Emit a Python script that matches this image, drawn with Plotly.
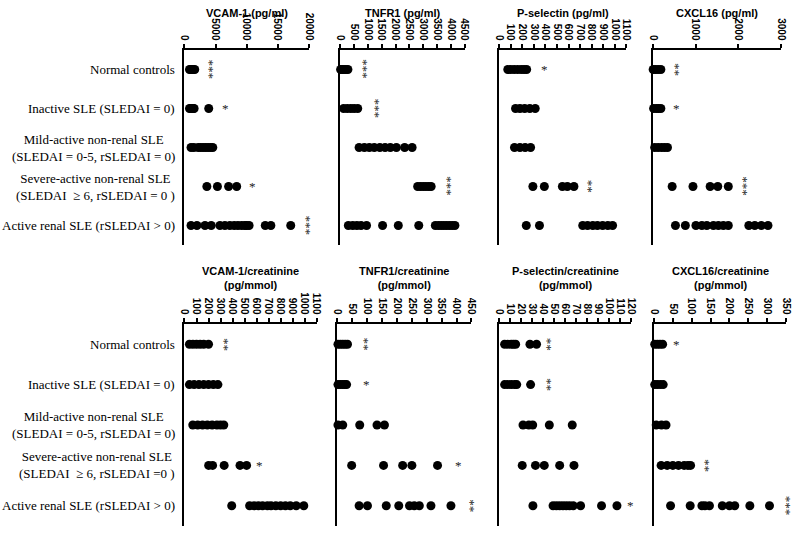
import plotly.graph_objects as go

groups_top = ["Normal controls", "Inactive SLE (SLEDAI = 0)",
              "Mild-active non-renal SLE<br>(SLEDAI = 0-5, rSLEDAI = 0)",
              "Severe-active non-renal SLE<br>(SLEDAI  \u2265 6, rSLEDAI = 0 )",
              "Active renal SLE (rSLEDAI > 0)"]
groups_bottom = ["Normal controls", "Inactive SLE (SLEDAI = 0)",
                 "Mild-active non-renal SLE<br>(SLEDAI = 0-5, rSLEDAI = 0)",
                 "Severe-active non-renal SLE<br>(SLEDAI  \u2265 6, rSLEDAI =0 )",
                 "Active renal SLE (rSLEDAI > 0)"]

titles = ["VCAM-1 (pg/ml)", "TNFR1 (pg/ml)", "P-selectin (pg/ml)", "CXCL16 (pg/ml)",
          "VCAM-1/creatinine<br>(pg/mmol)", "TNFR1/creatinine<br>(pg/mmol)",
          "P-selectin/creatinine<br>(pg/mmol)", "CXCL16/creatinine<br>(pg/mmol)"]

x_max = [20000, 4500, 1100, 3000, 1100, 450, 120, 350]
x_step = [5000, 500, 100, 1000, 100, 50, 10, 50]

vcam = [[800, 1000, 1200, 1400, 1650],
        [800, 1000, 1200, 1400, 1550, 3900],
        [1050, 1500, 2200, 2600, 3000, 3400, 3800, 4200, 4550],
        [3600, 5300, 7100, 8400],
        [1050, 2000, 3300, 4300, 5700, 6500, 7300, 8000, 8600, 9200, 9700, 10000, 10400,
         13000, 13900, 17100]]
tnfr1 = [[10, 70, 130, 200, 275],
         [120, 250, 380, 500, 630],
         [680, 870, 1050, 1230, 1430, 1620, 1810, 2030, 2330, 2600],
         [2800, 2900, 3000, 3100, 3200, 3290],
         [290, 450, 600, 750, 950, 1530, 2100, 2840,
          3440, 3550, 3650, 3750, 3850, 3950, 4050, 4150]]
psel = [[75, 100, 130, 160, 190, 215, 238],
        [142, 180, 221, 265, 312],
        [133, 180, 225, 272],
        [292, 391, 547, 590, 647],
        [235, 349, 723, 765, 810, 850, 895, 940, 981]]
cxcl16 = [[5, 60, 120, 185],
          [15, 80, 130, 185],
          [40, 120, 200, 270, 340],
          [449, 936, 1338, 1516, 1763],
          [526, 758, 1005, 1144, 1260, 1415, 1531, 1647, 1763, 2243, 2382, 2537, 2691]]
vcam_cr = [[41, 70, 100, 130, 160, 200],
           [41, 80, 120, 160, 200, 240, 278],
           [69, 110, 150, 190, 230, 270, 300, 327],
           [201, 234, 330, 462, 517],
           [393, 542, 580, 615, 650, 690, 720, 760, 800, 840, 880, 930, 993]]
tnfr1_cr = [[2, 10, 18, 26, 34],
            [2, 10, 18, 25, 31],
            [2, 18, 75, 133, 158],
            [48, 155, 219, 250, 336],
            [73, 101, 164, 206, 242, 258, 275, 314, 381]]
psel_cr = [[5, 8, 11, 13, 15, 28, 34],
           [5, 8, 11, 14, 16, 28.6],
           [21.7, 27, 30.5, 45.6, 66.4],
           [21, 33, 41, 55, 68],
           [30.7, 49, 52, 55, 58, 61, 64, 67.3, 74, 93, 107]]
cxcl16_cr = [[2, 9, 16, 23],
             [2, 9, 17, 24.5],
             [6, 20, 32],
             [19, 35, 50, 65, 80, 90, 97],
             [44, 96, 127, 135, 147, 181, 200, 214, 254, 306]]

panels = [vcam, tnfr1, psel, cxcl16, vcam_cr, tnfr1_cr, psel_cr, cxcl16_cr]

sig_text = [["***", "*", "", "*", "***"],
            ["***", "***", "", "***", "**"],
            ["*", "", "", "**", "***"],
            ["**", "*", "", "***", "***"],
            ["**", "", "", "*", "***"],
            ["**", "*", "", "*", "**"],
            ["**", "**", "", "", "*"],
            ["*", "", "", "**", "***"]]
sig_x = [[4100, 6600, None, 10900, 19700],
         [835, 1290, None, 3880, 4710],
         [391, None, None, 774, 1114],
         [526, 541, None, 2111, 3117],
         [338, None, None, 627, 1108],
         [92, 97.5, None, 408, 447],
         [44, 44, None, None, 119],
         [61, None, None, 136, 350]]

W, H = 800, 534
xdom_px = [(182, 308), (340, 466), (501, 630), (657, 787),
           (182, 316), (337, 473), (501, 635), (658, 792)]
ydom_px = [(50, 245), (324, 526)]

fig = go.Figure()
layout = dict(width=W, height=H, margin=dict(l=0, r=0, t=0, b=0),
              plot_bgcolor="white", paper_bgcolor="white", showlegend=False)
annotations = []
tickfont = dict(family="Liberation Sans, Arial", size=10, color="black", weight="bold")

for i, vals in enumerate(panels):
    n = i + 1
    xa = "x" if n == 1 else f"x{n}"
    ya = "y" if n == 1 else f"y{n}"
    row = 0 if i < 4 else 1
    x0, x1 = xdom_px[i]
    yt, yb = ydom_px[row]
    xs, ys = [], []
    for r, lst in enumerate(vals):
        xs += lst
        ys += [r] * len(lst)
    fig.add_trace(go.Scatter(x=xs, y=ys, mode="markers", xaxis=xa, yaxis=ya,
                             marker=dict(color="black", size=9, line=dict(width=0)),
                             cliponaxis=False, hoverinfo="skip"))
    tv = list(range(0, x_max[i] + 1, x_step[i]))
    layout["xaxis" if n == 1 else f"xaxis{n}"] = dict(
        domain=[x0 / W, x1 / W], anchor=ya, side="top", range=[0, x_max[i]],
        tickvals=tv, ticktext=[str(v) for v in tv], tickangle=90,
        showline=True, linewidth=2, linecolor="black", ticks="outside",
        ticklen=4, tickwidth=1.5, tickcolor="black", showgrid=False, zeroline=False,
        tickfont=tickfont, layer="below traces")
    # second set of ticks pointing inward so that ticks cross the axis line
    layout[f"xaxis{n + 8}"] = dict(
        overlaying=xa, anchor=ya, side="top", range=[0, x_max[i]],
        tickvals=tv, showticklabels=False, showline=False, ticks="inside",
        ticklen=4, tickwidth=1.5, tickcolor="black", showgrid=False,
        zeroline=False, layer="below traces")
    layout["yaxis" if n == 1 else f"yaxis{n}"] = dict(
        domain=[1 - yb / H, 1 - yt / H], anchor=xa, range=[4.5, -0.5],
        showline=True, linewidth=2, linecolor="black", showticklabels=False,
        ticks="", showgrid=False, zeroline=False, layer="below traces")
    ty = 13 if row == 0 else 278
    annotations.append(dict(text=titles[i], xref="paper", yref="paper",
                            x=(x0 + x1) / 2 / W, y=1 - ty / H, showarrow=False,
                            xanchor="center", yanchor="middle",
                            font=dict(family="Liberation Sans, Arial", size=11,
                                      color="black", weight="bold")))
    for r in range(5):
        if sig_text[i][r]:
            annotations.append(dict(text=sig_text[i][r], xref=xa, yref=ya,
                                    x=sig_x[i][r], y=r, showarrow=False,
                                    textangle=90 if len(sig_text[i][r]) > 1 else 0,
                                    xanchor="center", yanchor="middle",
                                    font=dict(family="Liberation Serif", size=13,
                                              color="#222222")))

for row, (labels, ya) in enumerate([(groups_top, "y"), (groups_bottom, "y5")]):
    for r, lab in enumerate(labels):
        annotations.append(dict(text=lab, xref="paper", yref=ya, x=174 / W, y=r,
                                showarrow=False, xanchor="right", yanchor="middle",
                                align="center",
                                font=dict(family="Liberation Serif, Times New Roman",
                                          size=13, color="black")))

layout["annotations"] = annotations
fig.update_layout(**layout)
fig.write_html("out.html", config={"displayModeBar": False},
               post_script="document.body.style.margin='0';document.body.style.overflow='hidden';")
